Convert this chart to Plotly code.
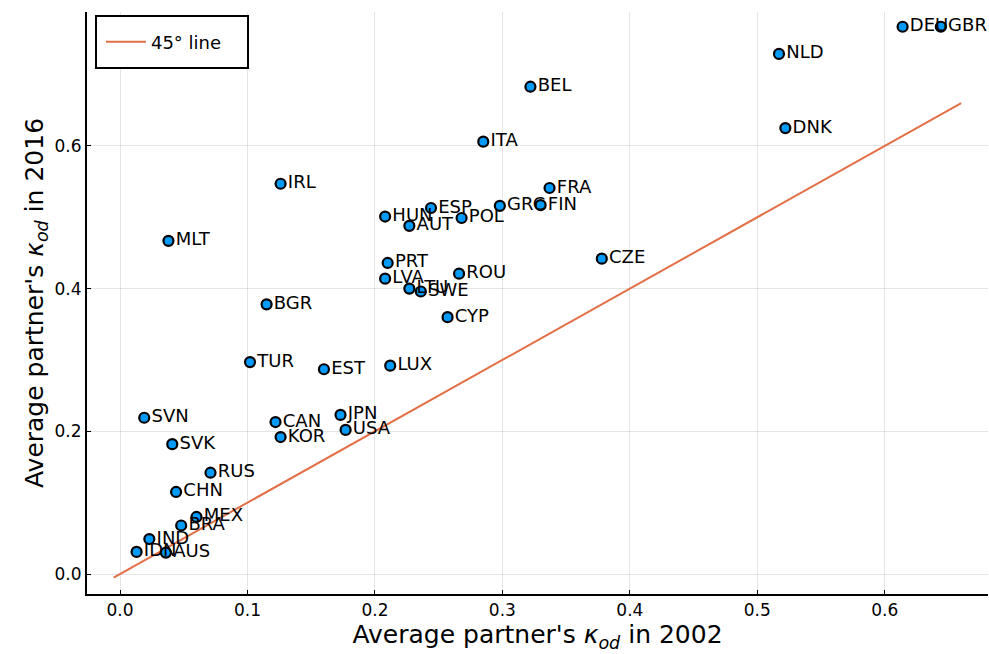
import plotly.graph_objects as go

countries = ["DEU", "GBR", "NLD", "BEL", "DNK", "ITA", "IRL", "FRA", "GRC", "FIN",
             "ESP", "HUN", "POL", "AUT", "MLT", "CZE", "PRT", "ROU", "LVA", "LTU",
             "SWE", "BGR", "CYP", "TUR", "EST", "LUX", "SVN", "JPN", "CAN", "USA",
             "KOR", "SVK", "RUS", "CHN", "MEX", "BRA", "IND", "IDN", "AUS"]
k2002 = [0.614, 0.644, 0.517, 0.322, 0.522, 0.285, 0.126, 0.337, 0.298, 0.330,
         0.244, 0.208, 0.268, 0.227, 0.038, 0.378, 0.210, 0.266, 0.208, 0.227,
         0.236, 0.115, 0.257, 0.102, 0.160, 0.212, 0.019, 0.173, 0.122, 0.177,
         0.126, 0.041, 0.071, 0.044, 0.060, 0.048, 0.023, 0.013, 0.036]
k2016 = [0.767, 0.767, 0.729, 0.683, 0.625, 0.606, 0.547, 0.541, 0.516, 0.517,
         0.513, 0.501, 0.499, 0.488, 0.467, 0.442, 0.436, 0.421, 0.414, 0.400,
         0.396, 0.378, 0.360, 0.297, 0.287, 0.292, 0.219, 0.223, 0.213, 0.202,
         0.192, 0.182, 0.142, 0.115, 0.080, 0.068, 0.049, 0.031, 0.030]
line_x = [-0.005, 0.66]
line_y = [-0.005, 0.66]

fig = go.Figure()
fig.add_trace(go.Scatter(
    x=line_x, y=line_y, mode="lines", name="45° line",
    line=dict(color="#E26F46", width=2), showlegend=True))
fig.add_trace(go.Scatter(
    x=k2002, y=k2016, mode="markers+text", text=countries,
    textposition="middle right",
    textfont=dict(family="DejaVu Sans", size=18, color="black"),
    marker=dict(color="#009AFA", size=10, line=dict(color="black", width=2.2)),
    showlegend=False, cliponaxis=False))

axis_common = dict(
    showgrid=True, gridcolor="rgba(0,0,0,0.1)", gridwidth=1,
    zeroline=False, showline=True, linecolor="black", linewidth=2,
    ticks="inside", ticklen=4, tickcolor="black", tickwidth=1,
    tickfont=dict(family="DejaVu Sans", size=17, color="black"),
    mirror=False)

# legend frame (paper coordinates)
fig.add_shape(type="rect", xref="paper", yref="paper",
              x0=0.01, x1=0.1787, y0=0.9038, y1=0.993,
              line=dict(color="black", width=2), fillcolor="white", layer="above")

fig.update_layout(
    width=989, height=654,
    margin=dict(l=87, r=1, t=12, b=60),
    paper_bgcolor="white", plot_bgcolor="white",
    font=dict(family="DejaVu Sans", color="black"),
    xaxis=dict(range=[-0.0259, 0.681], tickvals=[0, 0.1, 0.2, 0.3, 0.4, 0.5, 0.6],
               ticktext=["0.0", "0.1", "0.2", "0.3", "0.4", "0.5", "0.6"],
               title=dict(text="Average partner's <i>κ</i><sub><i>od</i></sub> in 2002",
                          font=dict(size=25), standoff=6),
               **axis_common),
    yaxis=dict(range=[-0.028, 0.7877], tickvals=[0, 0.2, 0.4, 0.6],
               ticktext=["0.0", "0.2", "0.4", "0.6"],
               title=dict(text="Average partner's <i>κ</i><sub><i>od</i></sub> in 2016",
                          font=dict(size=25), standoff=4),
               **axis_common),
    legend=dict(x=0.0155, y=0.9485, xanchor="left", yanchor="middle",
                borderwidth=0, bgcolor="rgba(0,0,0,0)", itemwidth=40,
                font=dict(family="DejaVu Sans", size=18, color="black")),
)

fig.write_html("out.html")
